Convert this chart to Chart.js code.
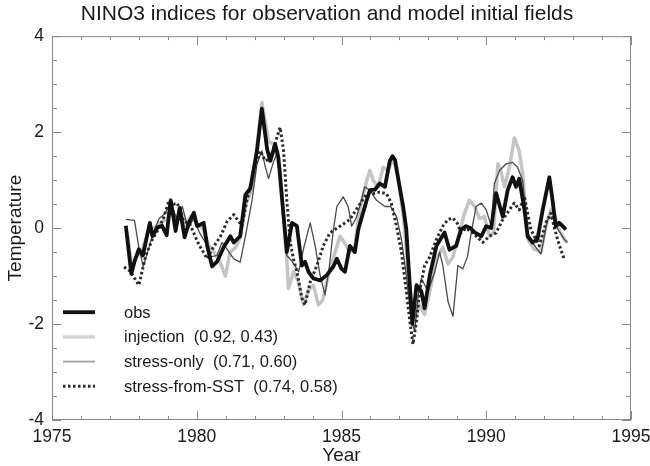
<!DOCTYPE html>
<html>
<head>
<meta charset="utf-8">
<script src="https://cdn.jsdelivr.net/npm/chart.js@4/dist/chart.umd.min.js"></script>
<style>
  html, body { margin: 0; padding: 0; background: #fff; }
  #wrap { width: 650px; height: 466px; }
</style>
</head>
<body>
<div id="wrap"><canvas id="ninoChart" width="650" height="466"></canvas></div>
<script>
// NINO3 index time series (deg C anomaly) sampled at turning points
var obsYears = [1977.55, 1977.74, 1977.85, 1978.0, 1978.14, 1978.38, 1978.47, 1978.64, 1978.8, 1978.96,
  1979.1, 1979.27, 1979.41, 1979.58, 1979.73, 1979.9, 1980.01, 1980.24, 1980.36, 1980.53,
  1980.7, 1980.93, 1981.16, 1981.28, 1981.5, 1981.68, 1981.85, 1982.08, 1982.25, 1982.43,
  1982.54, 1982.71, 1982.82, 1982.98, 1983.11, 1983.29, 1983.46, 1983.63, 1983.74, 1983.86,
  1984.03, 1984.26, 1984.49, 1984.72, 1984.84, 1985.0, 1985.12, 1985.29, 1985.46, 1985.58,
  1985.87, 1985.98, 1986.15, 1986.32, 1986.5, 1986.67, 1986.76, 1986.85, 1986.95, 1987.13,
  1987.24, 1987.3, 1987.45, 1987.59, 1987.76, 1987.87, 1988.05, 1988.28, 1988.56, 1988.73,
  1988.96, 1989.13, 1989.3, 1989.45, 1989.6, 1989.83, 1990.0, 1990.17, 1990.34, 1990.57,
  1990.74, 1990.91, 1991.03, 1991.14, 1991.32, 1991.43, 1991.6, 1991.77, 1991.95, 1992.18,
  1992.29, 1992.4, 1992.52, 1992.64, 1992.75];
var obsValues = [0.05, -0.95, -0.7, -0.44, -0.57, 0.11, -0.17, 0.01, 0.05, -0.15,
  0.58, -0.06, 0.42, -0.19, 0.11, 0.32, 0.04, 0.11, -0.37, -0.8,
  -0.7, -0.4, -0.17, -0.3, -0.17, 0.69, 0.83, 1.61, 2.49, 1.65,
  1.4, 1.75, 1.47, 0.38, -0.5, 0.11, 0.04, -0.78, -0.7, -0.91,
  -1.05, -1.09, -0.98, -0.8, -0.64, -0.85, -0.91, -0.37, -0.5, -0.03,
  0.58, 0.79, 0.8, 0.93, 0.86, 1.4, 1.5, 1.42, 1.06, 0.45,
  -0.03, -0.64, -2.0, -1.19, -1.32, -1.67, -0.98, -0.37, -0.09, -0.45,
  -0.37, -0.03, 0.04, 0.0, -0.09, -0.17, 0.04, 0.0, 0.73, 0.24,
  0.79, 1.06, 0.86, 1.03, 0.38, -0.17, -0.3, -0.23, 0.38, 1.06,
  0.58, 0.04, 0.11, 0.04, -0.03];

var injYears = [1977.6, 1977.75, 1977.9, 1978.1, 1978.3, 1978.5, 1978.7, 1979.0, 1979.1, 1979.3,
  1979.45, 1979.6, 1979.8, 1980.0, 1980.2, 1980.4, 1980.6, 1980.8, 1980.99, 1981.15,
  1981.35, 1981.5, 1981.7, 1981.9, 1982.08, 1982.25, 1982.48, 1982.65, 1982.88, 1983.0,
  1983.11, 1983.17, 1983.34, 1983.5, 1983.69, 1983.85, 1984.03, 1984.2, 1984.35, 1984.55,
  1984.78, 1984.95, 1985.1, 1985.29, 1985.46, 1985.63, 1985.87, 1985.98, 1986.1, 1986.27,
  1986.44, 1986.6, 1986.79, 1986.95, 1987.15, 1987.36, 1987.53, 1987.7, 1987.87, 1988.05,
  1988.28, 1988.5, 1988.68, 1988.85, 1989.07, 1989.25, 1989.42, 1989.6, 1989.77, 1989.94,
  1990.11, 1990.25, 1990.4, 1990.5, 1990.63, 1990.8, 1990.97, 1991.14, 1991.26, 1991.43,
  1991.66, 1991.89, 1992.06, 1992.23, 1992.35, 1992.52, 1992.69, 1992.8];
var injValues = [-0.1, -0.8, -0.6, -0.5, -0.1, 0.0, 0.1, 0.2, 0.5, 0.1,
  0.35, 0.05, 0.25, 0.1, 0.0, -0.35, -0.5, -0.7, -1.0, -0.5,
  -0.4, -0.2, 0.5, 0.8, 1.7, 2.62, 1.81, 1.75, 1.2, 0.24,
  -0.64, -1.26, -0.91, -1.1, -1.6, -1.3, -1.19, -1.6, -1.5, -0.98,
  -0.5, -0.17, -0.3, -0.5, -0.37, 0.38, 0.99, 1.2, 0.99, 0.86,
  1.27, 1.2, 1.47, 1.06, 0.2, -1.32, -1.87, -1.6, -1.8, -1.32,
  -0.64, -0.4, -0.75, -0.6, -0.1, 0.31, 0.58, 0.45, 0.2, 0.24,
  -0.17, -0.1, 1.34, 1.2, 0.86, 1.27, 1.88, 1.61, 1.13, -0.23,
  -0.44, -0.5, 0.04, 0.38, 0.3, -0.03, -0.23, -0.3];

var stressYears = [1977.55, 1977.85, 1978.0, 1978.15, 1978.3, 1978.5, 1978.7, 1978.9, 1979.1, 1979.3,
  1979.5, 1979.7, 1979.9, 1980.1, 1980.3, 1980.5, 1980.7, 1980.87, 1981.0, 1981.28,
  1981.5, 1981.68, 1981.91, 1982.08, 1982.25, 1982.37, 1982.48, 1982.66, 1982.82, 1982.98,
  1983.11, 1983.3, 1983.52, 1983.7, 1983.92, 1984.09, 1984.26, 1984.43, 1984.58, 1984.72,
  1984.84, 1985.06, 1985.23, 1985.35, 1985.5, 1985.63, 1985.8, 1985.98, 1986.21, 1986.5,
  1986.7, 1986.9, 1987.07, 1987.24, 1987.41, 1987.53, 1987.65, 1987.76, 1987.99, 1988.22,
  1988.39, 1988.5, 1988.68, 1988.85, 1989.02, 1989.19, 1989.35, 1989.48, 1989.65, 1989.83,
  1990.0, 1990.17, 1990.28, 1990.46, 1990.69, 1990.91, 1991.08, 1991.26, 1991.43, 1991.65,
  1991.89, 1992.12, 1992.29, 1992.45, 1992.69, 1992.8];
var stressValues = [0.18, 0.16, -0.4, -0.8, -0.5, -0.1, 0.2, 0.3, 0.55, 0.2,
  0.45, 0.0, 0.2, -0.1, -0.3, -0.6, -0.57, -0.3, -0.4, -0.64,
  -0.71, -0.17, 0.58, 1.34, 1.61, 1.27, 1.03, 1.4, 1.61, 0.4,
  -0.57, -0.7, -0.91, -0.4, 0.11, -0.37, -0.98, -1.39, -0.8, -0.03,
  0.45, 0.65, 0.45, 0.04, 0.2, 0.45, 0.86, 0.79, 0.58, 0.45,
  0.45, 0.24, -0.23, -0.98, -1.94, -2.14, -1.4, -1.05, -1.32, -0.91,
  -0.5, -0.78, -1.53, -1.84, -0.78, -0.85, -0.6, -0.1, 0.45, 0.52,
  0.38, 0.04, 0.93, 1.2, 1.34, 1.37, 1.27, 0.99, -0.1, -0.35,
  -0.54, 0.18, 0.24, 0.0, -0.23, -0.3];

var sstYears = [1977.49, 1977.7, 1978.0, 1978.24, 1978.47, 1978.7, 1978.87, 1979.04, 1979.2, 1979.33,
  1979.55, 1979.75, 1980.07, 1980.36, 1980.53, 1980.82, 1981.05, 1981.28, 1981.45, 1981.56,
  1981.73, 1982.02, 1982.19, 1982.37, 1982.55, 1982.71, 1982.88, 1983.0, 1983.11, 1983.23,
  1983.34, 1983.46, 1983.63, 1983.74, 1983.92, 1984.15, 1984.37, 1984.6, 1984.95, 1985.29,
  1985.58, 1985.87, 1986.1, 1986.32, 1986.55, 1986.72, 1986.9, 1987.07, 1987.24, 1987.36,
  1987.47, 1987.59, 1987.7, 1987.87, 1988.05, 1988.28, 1988.5, 1988.68, 1988.85, 1989.0,
  1989.13, 1989.3, 1989.54, 1989.88, 1990.11, 1990.34, 1990.57, 1990.8, 1990.97, 1991.14,
  1991.32, 1991.43, 1991.54, 1991.83, 1992.06, 1992.23, 1992.34, 1992.46, 1992.57, 1992.69];
var sstValues = [-0.81, -0.9, -1.19, -0.57, -0.23, 0.0, 0.24, 0.58, 0.5, 0.52,
  0.14, 0.1, -0.34, -0.64, -0.44, -0.17, 0.14, 0.28, 0.14, 0.04,
  0.58, 1.27, 1.61, 1.4, 1.45, 1.78, 2.1, 1.61, 0.58, -0.3,
  -0.64, -0.91, -1.46, -1.6, -1.12, -0.78, -0.37, -0.1, 0.04, 0.18,
  0.45, 0.72, 0.72, 0.75, 0.72, 0.52, 0.04, -0.5, -1.32, -1.94,
  -2.42, -1.94, -1.32, -0.78, -0.6, -0.23, 0.04, 0.18, 0.21, 0.1,
  -0.1, 0.0, -0.1, -0.3, -0.17, -0.1, 0.18, 0.38, 0.52, 0.38,
  0.65, 0.31, -0.03, -0.37, 0.11, 0.31, 0.04, -0.23, -0.44, -0.64];

var seriesNames = ['obs', 'injection  (0.92, 0.43)', 'stress-only  (0.71, 0.60)', 'stress-from-SST  (0.74, 0.58)'];

function toPoints(xs, ys) {
  return xs.map(function (x, i) { return { x: x, y: ys[i] }; });
}

var FONT = 'Liberation Sans, Arial, Helvetica, sans-serif';
var INK = '#1a1a1a';
var FRAME = '#8a8a8a';

// IDL style box: axis lines on all four sides with inward ticks
var framePlugin = {
  id: 'frame',
  afterDatasetsDraw: function (chart) {
    var ctx = chart.ctx, a = chart.chartArea;
    var xs = chart.scales.x, ys = chart.scales.y;
    ctx.save();
    ctx.strokeStyle = FRAME;
    ctx.lineWidth = 1;
    ctx.strokeRect(a.left + 0.5, a.top + 0.5, a.right - a.left - 1, a.bottom - a.top - 1);
    ctx.beginPath();
    for (var yr = 1975; yr <= 1995; yr += 1) {
      var px = Math.round(xs.getPixelForValue(yr)) + 0.5;
      var len = (yr % 5 === 0) ? 9 : 4;
      ctx.moveTo(px, a.bottom); ctx.lineTo(px, a.bottom - len);
      ctx.moveTo(px, a.top); ctx.lineTo(px, a.top + len);
    }
    for (var v = -4; v <= 4; v += 0.5) {
      var py = Math.round(ys.getPixelForValue(v)) + 0.5;
      var l2 = (v % 2 === 0) ? 9 : 5;
      ctx.moveTo(a.left, py); ctx.lineTo(a.left + l2, py);
      ctx.moveTo(a.right, py); ctx.lineTo(a.right - l2, py);
    }
    ctx.stroke();
    ctx.restore();
  }
};

// legend drawn inside the lower left of the plot box
var boxLegend = {
  id: 'boxLegend',
  afterDraw: function (chart) {
    var ctx = chart.ctx, a = chart.chartArea;
    ctx.save();
    ctx.font = '16.5px ' + FONT;
    ctx.textBaseline = 'middle';
    chart.data.datasets.forEach(function (ds, i) {
      var y = a.top + 276 + i * 24.7;
      ctx.beginPath();
      ctx.strokeStyle = ds.legendColor || ds.borderColor;
      ctx.lineWidth = ds.legendWidth || ds.borderWidth;
      ctx.setLineDash(ds.borderDash || []);
      ctx.moveTo(a.left + 11, y);
      ctx.lineTo(a.left + 43, y);
      ctx.stroke();
      ctx.setLineDash([]);
      ctx.fillStyle = INK;
      ctx.fillText(ds.label, a.left + 72, y + 1);
    });
    ctx.restore();
  }
};

var ctx = document.getElementById('ninoChart').getContext('2d');
var ninoChart = new Chart(ctx, {
  type: 'line',
  data: {
    datasets: [
      { label: seriesNames[0], data: toPoints(obsYears, obsValues),
        borderColor: '#111', borderWidth: 3.8, order: 1 },
      { label: seriesNames[1], data: toPoints(injYears, injValues),
        borderColor: '#c4c4c4', legendColor: '#d4d4d4', borderWidth: 3.5, order: 4 },
      { label: seriesNames[2], data: toPoints(stressYears, stressValues),
        borderColor: '#4a4a4a', legendColor: '#a8a8a8', legendWidth: 2, borderWidth: 1.3, order: 3 },
      { label: seriesNames[3], data: toPoints(sstYears, sstValues),
        borderColor: '#2a2a2a', borderWidth: 3, borderDash: [2.5, 2.5], order: 2 }
    ]
  },
  options: {
    responsive: false,
    animation: false,
    devicePixelRatio: 1,
    layout: { padding: { left: 9, right: 5, top: 0, bottom: 0 } },
    elements: {
      point: { radius: 0 },
      line: { tension: 0, borderCapStyle: 'butt', borderJoinStyle: 'round' }
    },
    plugins: {
      legend: { display: false },
      tooltip: { enabled: false },
      title: {
        display: true,
        text: 'NINO3 indices for observation and model initial fields',
        color: INK,
        font: { family: FONT, size: 21, weight: 'normal', lineHeight: 1.2 },
        padding: { top: 2, bottom: 9 }
      }
    },
    scales: {
      x: {
        type: 'linear',
        min: 1975, max: 1995,
        grid: { display: false, drawTicks: false },
        border: { display: false },
        ticks: { stepSize: 5, color: INK, font: { family: FONT, size: 17.5, lineHeight: 1.1 }, padding: 8,
          callback: function (v) { return String(v); } },
        title: { display: true, text: 'Year', color: INK,
          font: { family: FONT, size: 19, lineHeight: 1.1 }, padding: { top: 0, bottom: 0 } },
        afterFit: function (scale) {
          scale.height = 46;
          scale.paddingLeft = 0;
          scale.paddingRight = 19;
        }
      },
      y: {
        min: -4, max: 4,
        grid: { display: false, drawTicks: false },
        border: { display: false },
        ticks: { stepSize: 2, color: INK, font: { family: FONT, size: 17.5, lineHeight: 1.1 }, padding: 8 },
        title: { display: true, text: 'Temperature', color: INK,
          font: { family: FONT, size: 19, lineHeight: 1.1 }, padding: { top: -4, bottom: 0 } },
        afterFit: function (scale) {
          scale.width = 43;
          scale.paddingTop = 0;
          scale.paddingBottom = 0;
        }
      }
    }
  },
  plugins: [framePlugin, boxLegend]
});
</script>
</body>
</html>
